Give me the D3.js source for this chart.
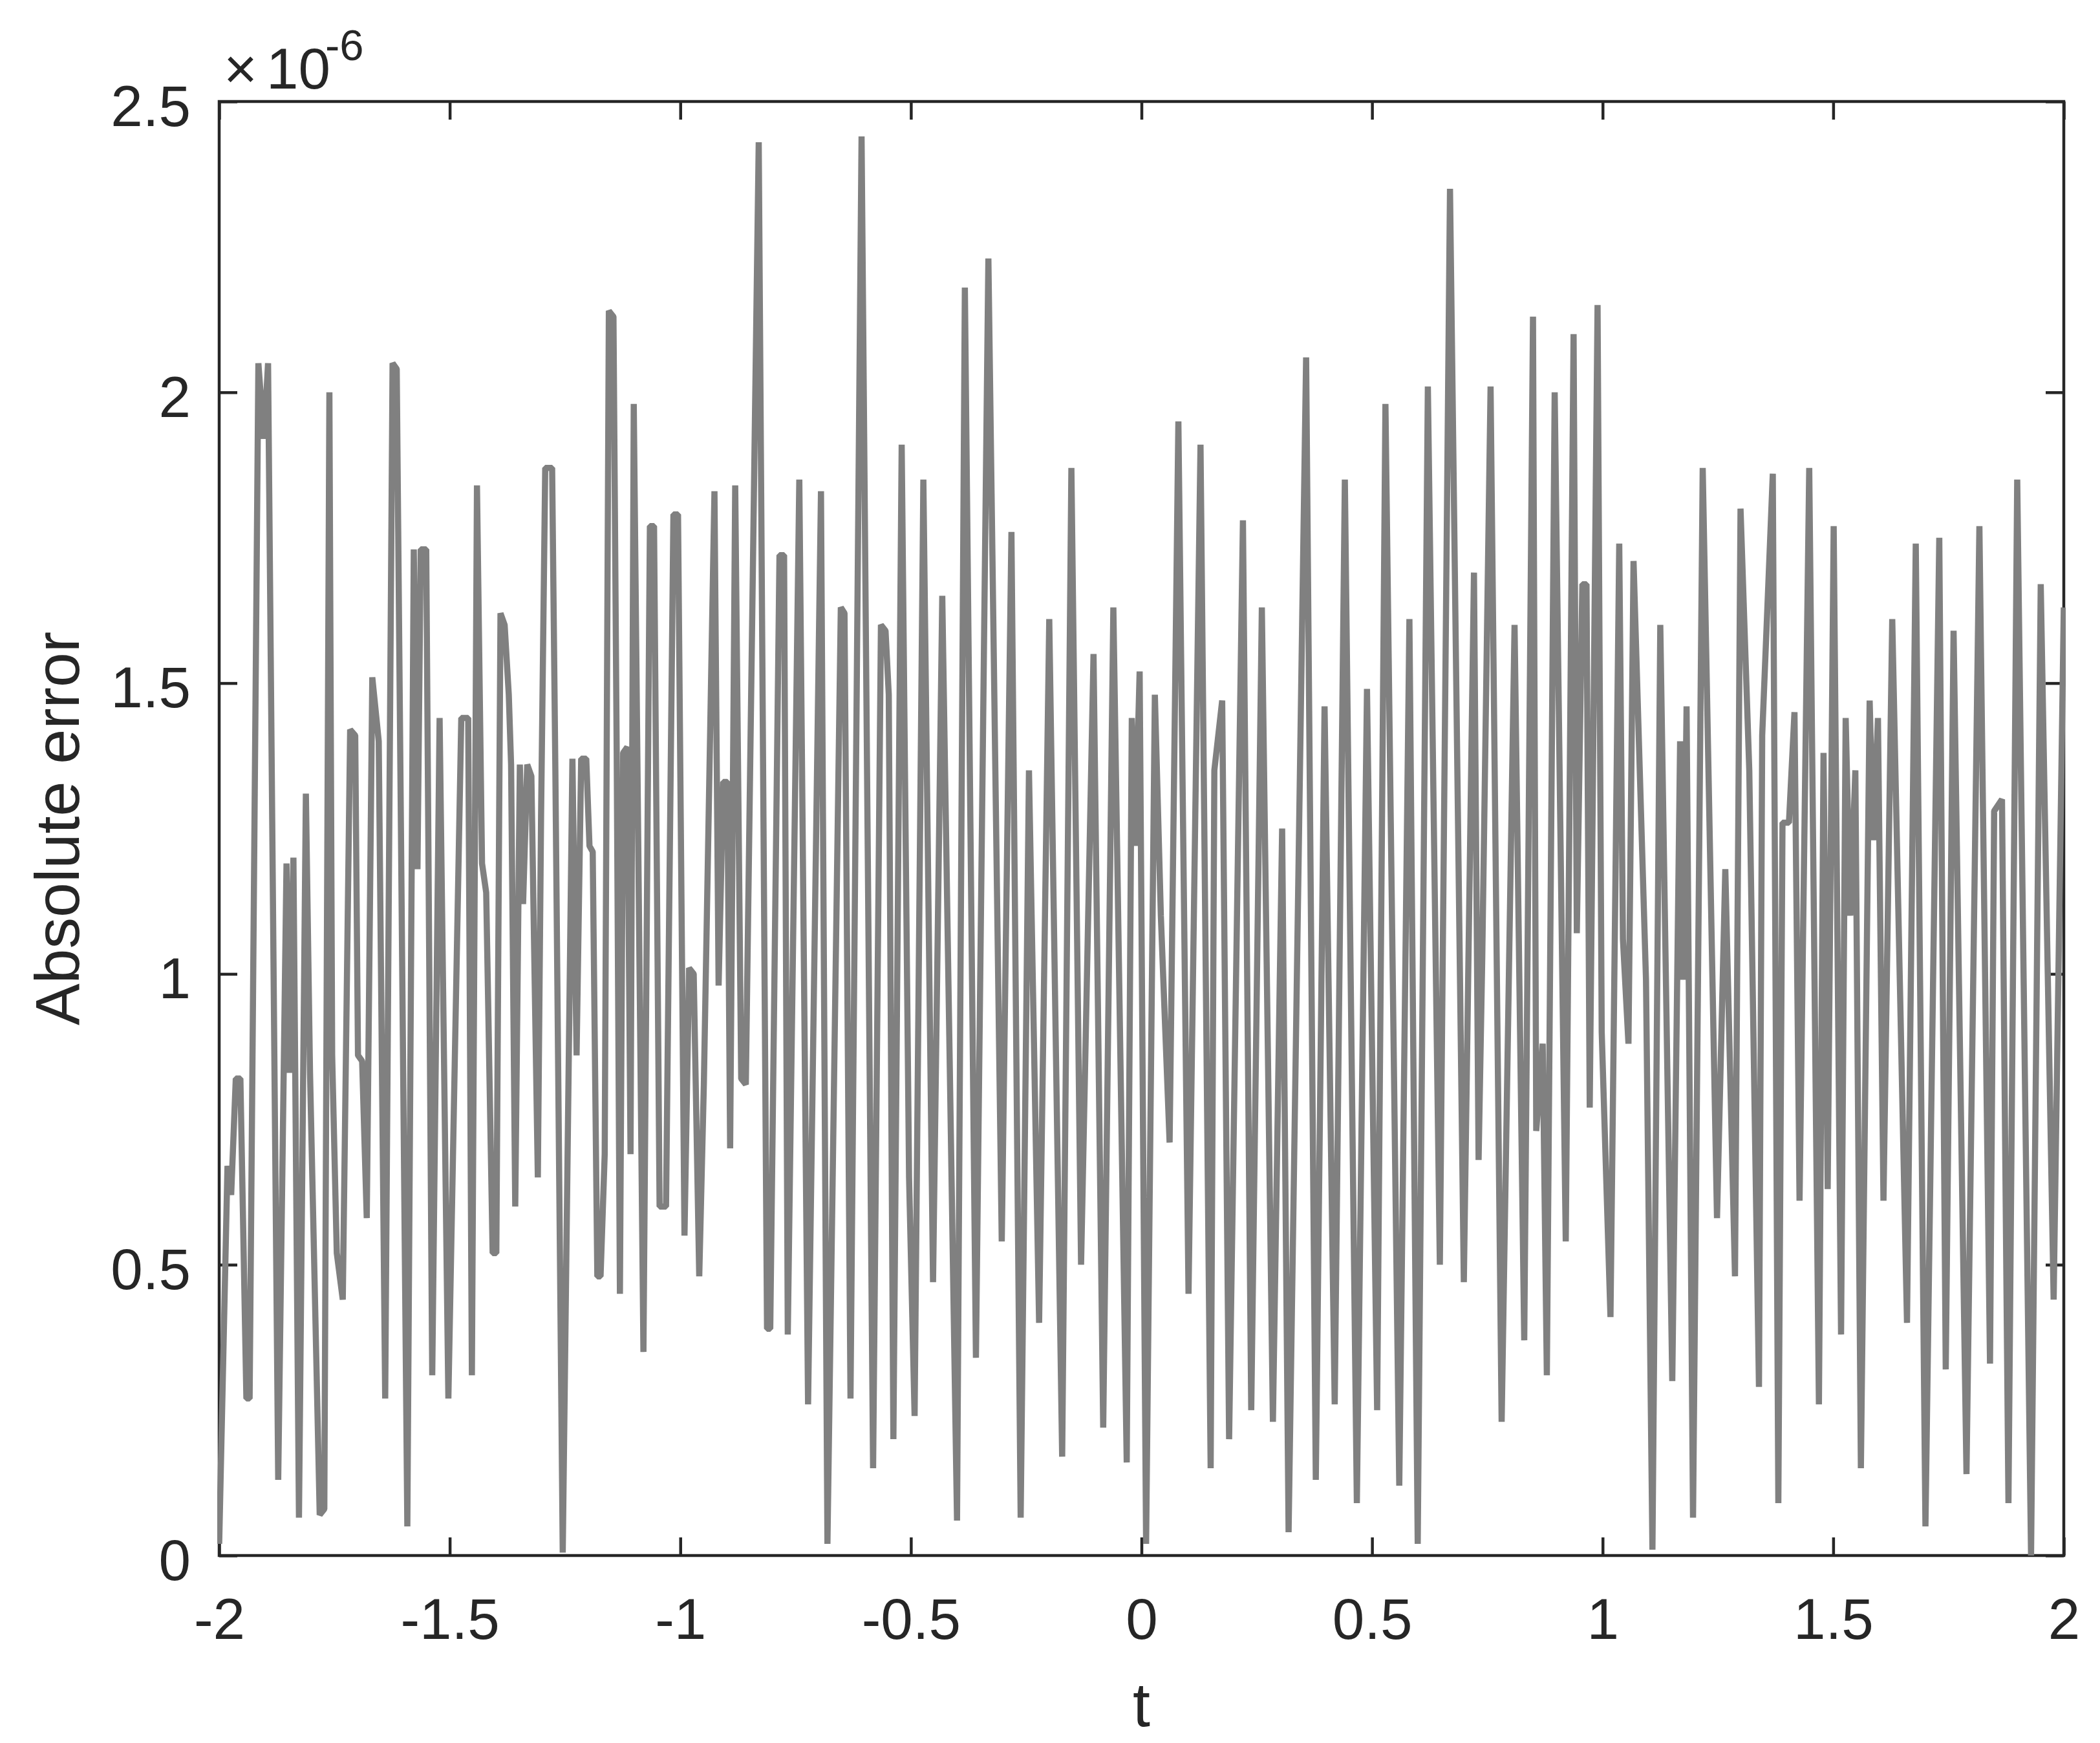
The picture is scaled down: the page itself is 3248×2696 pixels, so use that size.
<!DOCTYPE html>
<html>
<head>
<meta charset="utf-8">
<script src="https://cdn.jsdelivr.net/npm/d3@7"></script>
<style>
  html, body { margin: 0; padding: 0; background: #ffffff; }
  svg { display: block; }
  text { font-family: "Liberation Sans", Arial, Helvetica, sans-serif; fill: #262626; }
</style>
</head>
<body>
<svg id="chart" width="3248" height="2696"></svg>
<script>
// ---- data (absolute error, in units of 1e-6) ----
const tValues = [
  -2.000,-1.982,-1.974,-1.964,-1.954,-1.941,-1.934,-1.915,-1.903,-1.894,
  -1.872,-1.854,-1.848,-1.839,-1.827,-1.812,-1.803,-1.782,-1.772,-1.761,
  -1.755,-1.745,-1.732,-1.716,-1.705,-1.699,-1.690,-1.680,-1.668,-1.654,
  -1.640,-1.624,-1.615,-1.592,-1.578,-1.570,-1.563,-1.551,-1.538,-1.522,
  -1.503,
  -1.475,-1.460,-1.452,-1.441,-1.430,-1.421,-1.407,-1.399,-1.390,-1.381,
  -1.372,-1.367,-1.358,-1.348,-1.341,-1.332,-1.323,-1.309,-1.302,-1.293,
  -1.278,-1.271,-1.255,-1.234,-1.225,-1.215,-1.204,-1.197,-1.190,-1.180,
  -1.173,-1.164,-1.155,-1.145,-1.138,-1.131,-1.124,-1.115,-1.108,-1.101,
  -1.080,-1.066,-1.057,-1.045,-1.031,-1.015,-1.005,
  -0.991,-0.981,-0.971,-0.959,-0.949,-0.926,-0.917,-0.907,-0.898,-0.892,
  -0.881,-0.868,-0.858,-0.830,-0.812,-0.805,-0.785,-0.775,-0.767,-0.742,
  -0.723,-0.695,-0.681,-0.652,-0.644,-0.631,-0.607,-0.582,-0.565,-0.555,
  -0.548,-0.538,-0.520,-0.504,-0.492,
  -0.473,-0.452,-0.432,-0.400,-0.383,-0.359,-0.332,-0.303,-0.282,-0.262,
  -0.244,-0.222,-0.200,-0.172,-0.152,-0.131,-0.104,-0.083,-0.061,-0.032,
  -0.021,-0.014,-0.004,0.010,
  0.029,0.042,0.061,0.080,0.102,0.128,0.150,0.158,0.175,0.190,
  0.220,0.238,0.261,0.285,0.305,0.319,0.357,0.378,0.397,0.419,
  0.441,0.467,0.489,0.511,
  0.529,0.559,0.581,0.599,0.621,0.647,0.669,0.699,0.721,0.731,
  0.739,0.757,0.781,0.809,0.830,0.849,0.856,0.870,0.879,0.896,
  0.920,0.937,0.944,0.956,0.965,0.972,0.989,0.998,1.017,
  1.036,1.044,1.056,1.067,1.094,1.108,1.125,1.151,1.168,1.175,
  1.182,1.196,1.217,1.248,1.266,1.287,1.299,1.318,1.339,1.346,
  1.369,1.381,1.390,1.404,1.416,1.427,1.448,1.469,1.479,1.488,
  1.501,1.517,
  1.527,1.537,1.548,1.560,1.579,1.587,1.597,1.609,1.628,1.660,
  1.679,1.700,1.730,1.744,1.761,1.789,1.817,1.840,1.849,1.866,
  1.880,1.899,1.929,1.950,1.978,2.000
];
const errValues = [
  0.02,0.67,0.62,0.82,0.82,0.27,0.27,2.05,1.92,2.05,
  0.13,1.19,0.83,1.20,0.065,1.31,0.83,0.07,0.08,2.00,
  0.86,0.52,0.44,1.42,1.41,0.86,0.85,0.58,1.51,1.40,
  0.27,2.05,2.04,0.05,1.73,1.18,1.73,1.73,0.31,1.44,
  0.27,
  1.44,1.44,0.31,1.84,1.19,1.14,0.52,0.52,1.62,1.60,
  1.48,1.36,0.60,1.36,1.12,1.36,1.34,0.65,1.27,1.87,
  1.87,1.35,0.005,1.37,0.86,1.37,1.37,1.22,1.21,0.48,
  0.48,0.69,2.14,2.13,1.38,0.45,1.38,1.39,0.69,1.98,
  0.35,1.77,1.77,0.60,0.60,1.79,1.79,
  0.55,1.01,1.00,0.48,0.81,1.83,0.98,1.33,1.33,0.70,
  1.84,0.82,0.81,2.43,0.39,0.39,1.72,1.72,0.38,1.85,
  0.26,1.83,0.02,1.63,1.62,0.27,2.44,0.15,1.60,1.59,
  1.48,0.20,1.91,0.65,0.24,
  1.85,0.47,1.65,0.06,2.18,0.34,2.23,0.54,1.76,0.065,
  1.35,0.40,1.61,0.17,1.87,0.50,1.55,0.22,1.63,0.16,
  1.44,1.22,1.52,0.02,
  1.48,1.10,0.71,1.95,0.45,1.91,0.15,1.35,1.47,0.20,
  1.78,0.25,1.63,0.23,1.25,0.04,2.06,0.13,1.46,0.26,
  1.85,0.09,1.49,0.25,
  1.98,0.12,1.61,0.02,2.01,0.50,2.35,0.47,1.69,0.68,
  1.03,2.01,0.23,1.60,0.37,2.13,0.73,0.88,0.31,2.00,
  0.54,2.10,1.07,1.67,1.67,0.77,2.15,0.90,0.41,
  1.74,1.06,0.88,1.71,0.99,0.01,1.60,0.30,1.40,0.99,
  1.46,0.065,1.87,0.58,1.18,0.48,1.80,1.35,0.29,1.41,
  1.86,0.09,1.26,1.26,1.45,0.61,1.87,0.26,1.38,0.63,
  1.77,0.38,
  1.44,1.10,1.35,0.15,1.47,1.23,1.44,0.61,1.61,0.40,
  1.74,0.05,1.75,0.32,1.59,0.14,1.77,0.33,1.28,1.30,
  0.09,1.85,0.00,1.67,0.44,1.63
];
const xTickValues = [-2, -1.5, -1, -0.5, 0, 0.5, 1, 1.5, 2];
const xTickLabels = ["-2", "-1.5", "-1", "-0.5", "0", "0.5", "1", "1.5", "2"];
const yTickValues = [0, 0.5, 1, 1.5, 2, 2.5];
const yTickLabels = ["0", "0.5", "1", "1.5", "2", "2.5"];
const xLabel = "t";
const yLabel = "Absolute error";
const exponentBase = "10";
const exponentPower = "-6";

// ---- layout ----
const W = 3248, H = 2696;
const plot = { left: 339, right: 3192, top: 157, bottom: 2406 };
const tickLen = 28;
const tickFont = 89;
const labelFont = 97;
const axisColor = "#262626";
const lineColor = "#808080";

const svg = d3.select("#chart");
svg.append("rect").attr("width", W).attr("height", H).attr("fill", "#ffffff");

const x = d3.scaleLinear().domain([-2, 2]).range([plot.left, plot.right]);
const y = d3.scaleLinear().domain([0, 2.5]).range([plot.bottom, plot.top]);

const data = tValues.map((t, i) => ({ t, e: errValues[i] }));

// clip
svg.append("defs").append("clipPath").attr("id", "clip")
  .append("rect")
  .attr("x", plot.left - 3).attr("y", plot.top - 3)
  .attr("width", plot.right - plot.left + 6)
  .attr("height", plot.bottom - plot.top + 6);

// axes
function styleAxis(g) {
  g.select(".domain").remove();
  g.selectAll(".tick line").attr("stroke", axisColor).attr("stroke-width", 4.5);
  g.selectAll(".tick text")
    .attr("fill", axisColor)
    .style("font-size", tickFont + "px")
    .style("font-family", '"Liberation Sans", Arial, Helvetica, sans-serif');
}

const xAxisBottom = d3.axisBottom(x)
  .tickValues(xTickValues)
  .tickFormat((d, i) => xTickLabels[i])
  .tickSizeInner(-tickLen).tickSizeOuter(0).tickPadding(66);
svg.append("g").attr("transform", `translate(0,${plot.bottom})`).call(xAxisBottom).call(styleAxis);

const xAxisTop = d3.axisTop(x)
  .tickValues(xTickValues).tickFormat("")
  .tickSizeInner(-tickLen).tickSizeOuter(0);
svg.append("g").attr("transform", `translate(0,${plot.top})`).call(xAxisTop).call(styleAxis);

const yAxisLeft = d3.axisLeft(y)
  .tickValues(yTickValues)
  .tickFormat((d, i) => yTickLabels[i])
  .tickSizeInner(-tickLen).tickSizeOuter(0).tickPadding(44);
svg.append("g").attr("transform", `translate(${plot.left},0)`).call(yAxisLeft).call(styleAxis)
  .selectAll(".tick text").attr("dy", "0.42em");

const yAxisRight = d3.axisRight(y)
  .tickValues(yTickValues).tickFormat("")
  .tickSizeInner(-tickLen).tickSizeOuter(0);
svg.append("g").attr("transform", `translate(${plot.right},0)`).call(yAxisRight).call(styleAxis);

// box
svg.append("rect")
  .attr("x", plot.left).attr("y", plot.top)
  .attr("width", plot.right - plot.left).attr("height", plot.bottom - plot.top)
  .attr("fill", "none").attr("stroke", axisColor).attr("stroke-width", 4.5);

// data line
const line = d3.line().x(d => x(d.t)).y(d => y(d.e));
svg.append("path")
  .datum(data)
  .attr("clip-path", "url(#clip)")
  .attr("d", line)
  .attr("fill", "none")
  .attr("stroke", lineColor)
  .attr("stroke-width", 9.5)
  .attr("stroke-linejoin", "bevel");

// exponent label  x10^-6
svg.append("text").attr("x", 346).attr("y", 137)
  .style("font-size", tickFont + "px").text("\u00D7");
svg.append("text").attr("x", 412).attr("y", 137)
  .style("font-size", tickFont + "px").text(exponentBase);
svg.append("text").attr("x", 503).attr("y", 93)
  .style("font-size", "67px").text(exponentPower);

// axis labels
svg.append("text")
  .attr("x", (plot.left + plot.right) / 2).attr("y", 2670)
  .attr("text-anchor", "middle")
  .style("font-size", labelFont + "px").text(xLabel);

svg.append("text")
  .attr("transform", `translate(122,${(plot.top + plot.bottom) / 2}) rotate(-90)`)
  .attr("text-anchor", "middle")
  .style("font-size", labelFont + "px").text(yLabel);
</script>
</body>
</html>
